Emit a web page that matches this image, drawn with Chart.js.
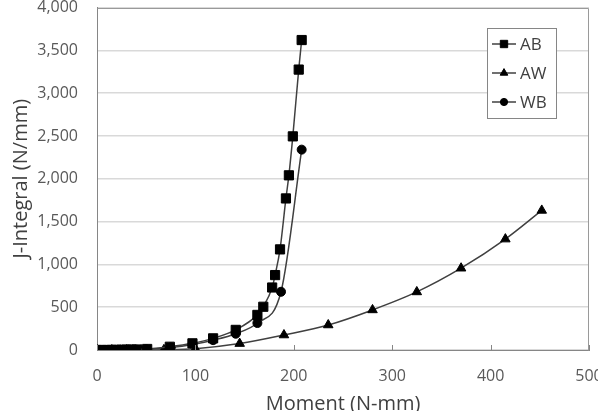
<!DOCTYPE html>
<html><head><meta charset="utf-8">
<script src="https://cdn.jsdelivr.net/npm/chart.js@4/dist/chart.umd.min.js"></script>
<style>html,body{margin:0;padding:0;background:#fff;}#wrap{width:598px;height:411px;position:relative;}</style>
</head><body><div id="wrap"><canvas id="c" width="598" height="411"></canvas></div>
<script>
const seriesNames = ['AB', 'AW', 'WB'];
const abMoment = [0, 5, 10, 15, 20, 25, 30, 35, 40, 51, 74, 97, 118, 141, 163, 169, 178, 181, 186, 192, 195, 199, 205, 208];
const abJ      = [0, 0, 0, 1, 2, 3, 4, 5, 6, 12, 38, 78, 136, 235, 410, 505, 730, 875, 1175, 1770, 2040, 2495, 3275, 3620];
const awMoment = [0, 15, 30, 45, 68, 100, 145, 190, 235, 280, 325, 370, 415, 452];
const awJ      = [0, 0, 0, 0, 2, 15, 75, 175, 292, 468, 678, 955, 1295, 1630];
const wbMoment = [0, 8, 16, 24, 32, 40, 50, 75, 97, 118, 141, 163, 187, 208];
const wbJ      = [0, 0, 1, 2, 3, 4, 8, 30, 65, 115, 190, 315, 680, 2340];
const xTicks = [0, 100, 200, 300, 400, 500];
const yTicks = [0, 500, 1000, 1500, 2000, 2500, 3000, 3500, 4000];
const xTitle = 'Moment (N-mm)';
const yTitle = 'J-Integral (N/mm)';

const FONT = "'Open Sans', sans-serif";
const pts = (xs, ys) => xs.map((x, i) => ({x: x, y: ys[i]}));

const styles = [
  {pointStyle: 'rect', pointRadius: 6.5},
  {pointStyle: 'triangle', pointRadius: 5.5},
  {pointStyle: 'circle', pointRadius: 4.5}
];
const dataSets = [pts(abMoment, abJ), pts(awMoment, awJ), pts(wbMoment, wbJ)];

const frame = {
  id: 'frame',
  afterDraw(chart) {
    const ctx = chart.ctx, a = chart.chartArea;
    ctx.save();
    ctx.strokeStyle = '#9a9a9a';
    ctx.lineWidth = 1;
    ctx.beginPath();
    ctx.moveTo(Math.round(a.left) + 0.5, Math.round(a.top) + 0.5);
    ctx.lineTo(Math.round(a.right) - 0.5, Math.round(a.top) + 0.5);
    ctx.lineTo(Math.round(a.right) - 0.5, Math.round(a.bottom) + 0.5);
    ctx.stroke();
    const xs = chart.scales.x;
    ctx.strokeStyle = '#868686';
    xs.ticks.forEach(t => {
      const px = Math.round(xs.getPixelForValue(t.value)) + 0.5;
      ctx.beginPath();
      ctx.moveTo(px, a.bottom);
      ctx.lineTo(px, a.bottom - 5);
      ctx.stroke();
    });
    const lx = 487.5, ly = 28.5, lw = 69, lh = 90;
    ctx.fillStyle = '#ffffff';
    ctx.fillRect(lx, ly, lw, lh);
    ctx.strokeStyle = '#868686';
    ctx.strokeRect(lx, ly, lw, lh);
    chart.data.datasets.forEach((ds, i) => {
      const cy = 44 + i * 29;
      ctx.strokeStyle = '#404040';
      ctx.lineWidth = 1.5;
      ctx.beginPath();
      ctx.moveTo(492, cy);
      ctx.lineTo(516, cy);
      ctx.stroke();
      ctx.fillStyle = '#000';
      ctx.strokeStyle = '#000';
      ctx.lineWidth = 1;
      Chart.helpers.drawPoint(ctx, {pointStyle: ds.pointStyle, radius: ds.pointRadius * 0.8, borderWidth: 1}, 504, cy);
      ctx.fillStyle = '#404040';
      ctx.font = "17px " + FONT;
      ctx.textBaseline = 'middle';
      ctx.textAlign = 'left';
      ctx.fillText(ds.label, 520, cy + 1);
    });
    ctx.restore();
  }
};

new Chart(document.getElementById('c'), {
  type: 'line',
  data: {
    datasets: seriesNames.map((n, i) => ({
      label: n,
      data: dataSets[i],
      borderColor: '#404040',
      borderWidth: 1.5,
      backgroundColor: '#000',
      pointBackgroundColor: '#000',
      pointBorderColor: '#000',
      pointBorderWidth: 1,
      pointStyle: styles[i].pointStyle,
      pointRadius: styles[i].pointRadius,
      cubicInterpolationMode: 'monotone',
      fill: false
    }))
  },
  options: {
    responsive: false,
    animation: false,
    devicePixelRatio: 1,
    parsing: false,
    layout: {padding: {top: 7, right: 9, left: 0, bottom: 0}},
    plugins: {legend: {display: false}, tooltip: {enabled: false}},
    scales: {
      x: {
        type: 'linear', min: 0, max: 500,
        afterBuildTicks: s => { s.ticks = xTicks.map(v => ({value: v})); },
        afterFit: s => { s.height = 61; s.paddingLeft = 0; s.paddingRight = 0; },
        ticks: {color: '#595959', font: {family: FONT, size: 16}, padding: 17, maxRotation: 0},
        grid: {drawOnChartArea: false, drawTicks: false},
        border: {color: '#868686', width: 1},
        title: {display: true, text: xTitle, color: '#404040', font: {family: FONT, size: 20}, padding: {top: 0, bottom: -5}}
      },
      y: {
        type: 'linear', min: 0, max: 4000,
        afterBuildTicks: s => { s.ticks = yTicks.map(v => ({value: v})); },
        afterFit: s => { s.width = 97; s.paddingTop = 0; s.paddingBottom = 0; },
        ticks: {color: '#595959', font: {family: FONT, size: 16}, padding: 19,
          callback: v => v.toLocaleString('en-US')},
        grid: {color: '#d9d9d9', lineWidth: 1.5, drawTicks: false},
        border: {color: '#868686', width: 1},
        title: {display: true, text: yTitle, color: '#404040', font: {family: FONT, size: 20}, padding: {top: 9, bottom: 0}}
      }
    }
  },
  plugins: [frame]
});
</script>
</body></html>
